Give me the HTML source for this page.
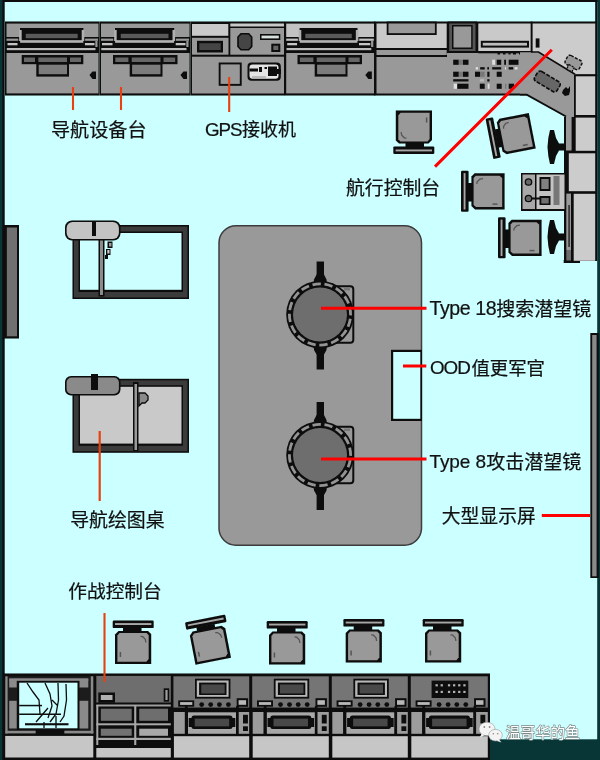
<!DOCTYPE html>
<html lang="zh-CN">
<head>
<meta charset="utf-8">
<title>潜艇指挥舱布局图</title>
<style>
html,body{margin:0;padding:0;background:#ccffff;}
body{width:600px;height:760px;overflow:hidden;}
svg{display:block;font-family:"Liberation Sans","Noto Sans CJK SC",sans-serif;font-size:19px;fill:#111;}
</style>
</head>
<body>
<svg width="600" height="760" viewBox="0 0 600 760">
<g shape-rendering="auto">
<rect x="0" y="0" width="600" height="760" fill="#ccffff"/>
<rect x="0" y="0" width="600" height="2" fill="#0c0c0c"/>
<rect x="595.2" y="0" width="2" height="22" fill="#0c0c0c"/>
<rect x="0" y="0" width="4.7" height="760" fill="#0c0c0c"/>
<rect x="0" y="0" width="2.4" height="760" fill="#083636"/>
<rect x="597.2" y="0" width="2.8" height="760" fill="#083636"/>
<rect x="489" y="739.3" width="111" height="20.7" fill="#083636"/>
<defs><filter id="soft" x="0" y="0" width="600" height="760" filterUnits="userSpaceOnUse"><feGaussianBlur stdDeviation="0.55"/></filter></defs>
<g filter="url(#soft)">
<rect x="5" y="21.5" width="94.5" height="74" fill="#0c0c0c"/>
<rect x="6.5" y="23.6" width="92" height="13.4" fill="#999999"/>
<rect x="6.5" y="53" width="92" height="40.4" fill="#999999"/>
<rect x="19.1" y="29.5" width="65.2" height="11.5" fill="#b0b0b0"/>
<rect x="20" y="28" width="63.4" height="2" fill="#0c0c0c"/>
<rect x="21.7" y="29.5" width="60" height="10.8" fill="#0c0c0c"/>
<rect x="25.7" y="33.8" width="52" height="4.4" fill="#5a5a5a"/>
<rect x="6.5" y="38.6" width="11.8" height="2.2" fill="#999999"/>
<rect x="85.1" y="38.6" width="12.9" height="2.2" fill="#999999"/>
<rect x="20.1" y="40.5" width="63.2" height="2.3" fill="#b4b4b4"/>
<rect x="7.5" y="43" width="10" height="2.3" fill="#c4c4c4"/>
<rect x="84.9" y="43" width="9.6" height="2.3" fill="#c4c4c4"/>
<rect x="6.8" y="48" width="88.7" height="2.2" fill="#bcbcbc"/>
<rect x="95.3" y="41" width="2.2" height="6" fill="#999999"/>
<rect x="21.7" y="55" width="61.6" height="9.2" fill="#0c0c0c"/>
<rect x="36.3" y="64" width="32.7" height="12.6" fill="#0c0c0c"/>
<rect x="24" y="57.5" width="11" height="4.5" fill="#666666"/>
<rect x="38.3" y="57.5" width="28.7" height="4.5" fill="#666666"/>
<rect x="70" y="57.5" width="11" height="4.5" fill="#666666"/>
<rect x="38.7" y="64.7" width="28.3" height="9.5" fill="#7c7c7c"/>
<path d="M89.5,75 l3,-3.5 h3.5 v7.5 h-3.5 Z" fill="#0c0c0c" stroke="none" stroke-width="0"/>
<rect x="99.5" y="21.5" width="91" height="74" fill="#0c0c0c"/>
<rect x="101" y="23.6" width="88.5" height="13.4" fill="#999999"/>
<rect x="101" y="53" width="88.5" height="40.4" fill="#999999"/>
<rect x="114.1" y="29.5" width="61" height="11.5" fill="#b0b0b0"/>
<rect x="115" y="28" width="59.2" height="2" fill="#0c0c0c"/>
<rect x="116.7" y="29.5" width="55.8" height="10.8" fill="#0c0c0c"/>
<rect x="120.7" y="33.8" width="47.8" height="4.4" fill="#5a5a5a"/>
<rect x="101" y="38.6" width="12.3" height="2.2" fill="#999999"/>
<rect x="175.9" y="38.6" width="13.1" height="2.2" fill="#999999"/>
<rect x="115.1" y="40.5" width="59" height="2.3" fill="#b4b4b4"/>
<rect x="102" y="43" width="10.5" height="2.3" fill="#c4c4c4"/>
<rect x="175.7" y="43" width="9.8" height="2.3" fill="#c4c4c4"/>
<rect x="101.3" y="48" width="85.2" height="2.2" fill="#bcbcbc"/>
<rect x="186.3" y="41" width="2.2" height="6" fill="#999999"/>
<rect x="113" y="55" width="64.5" height="9.2" fill="#0c0c0c"/>
<rect x="129.7" y="64" width="32.8" height="12.6" fill="#0c0c0c"/>
<rect x="115.3" y="57.5" width="13.1" height="4.5" fill="#666666"/>
<rect x="131.7" y="57.5" width="28.8" height="4.5" fill="#666666"/>
<rect x="163.5" y="57.5" width="11.7" height="4.5" fill="#666666"/>
<rect x="132.1" y="64.7" width="28.4" height="9.5" fill="#7c7c7c"/>
<path d="M180.5,75 l3,-3.5 h3.5 v7.5 h-3.5 Z" fill="#0c0c0c" stroke="none" stroke-width="0"/>
<rect x="190.5" y="21.5" width="94.5" height="74" fill="#0c0c0c"/>
<rect x="192" y="24" width="36.3" height="11.8" fill="#c9c9c9"/>
<rect x="192" y="37.8" width="36.5" height="16.9" fill="#999999"/>
<rect x="197" y="40.8" width="26" height="11.7" fill="#0c0c0c"/>
<rect x="199.3" y="43.2" width="21.4" height="6.8" fill="#444"/>
<rect x="230.3" y="23.5" width="53.7" height="3" fill="#c9c9c9"/>
<rect x="230.3" y="28" width="53.7" height="26.7" fill="#999999"/>
<path d="M241,33.7 H248.7 L251.7,37 V46.5 L248.7,49.7 H241 L238,46.5 V37 Z" fill="#444" stroke="#0c0c0c" stroke-width="1.6"/>
<rect x="260" y="34" width="20.3" height="6" fill="#0c0c0c"/>
<rect x="261.5" y="35.6" width="17.3" height="2.8" fill="#d8e0dc"/>
<rect x="271.3" y="43.7" width="9" height="8.3" fill="#0c0c0c"/>
<rect x="273.3" y="45.7" width="5" height="4.3" fill="#666666"/>
<rect x="192" y="56.7" width="92" height="36.8" fill="#999999"/>
<rect x="218.7" y="62.5" width="23" height="23.3" fill="#0c0c0c"/>
<rect x="220.6" y="64.4" width="19.2" height="19.5" fill="#999999"/>
<rect x="247.5" y="62.5" width="33.3" height="18.3" rx="4" fill="#0c0c0c"/>
<rect x="249.5" y="64.5" width="29" height="14.3" rx="3" fill="#e4e4e4"/>
<rect x="249.5" y="68.5" width="8.5" height="3" fill="#0c0c0c"/>
<rect x="259" y="67" width="3" height="5" fill="#0c0c0c"/>
<rect x="264.5" y="67" width="2.5" height="2" fill="#0c0c0c"/>
<rect x="268" y="66.5" width="9" height="9.5" fill="#0c0c0c"/>
<rect x="275" y="69" width="6" height="5" fill="#0c0c0c"/>
<rect x="252" y="76" width="14" height="2" fill="#bbb"/>
<rect x="284.7" y="21.5" width="90.6" height="74" fill="#0c0c0c"/>
<rect x="286.2" y="23.6" width="88.1" height="13.4" fill="#c2c2c2"/>
<rect x="286.2" y="53" width="88.1" height="40.4" fill="#999999"/>
<rect x="298.7" y="29.5" width="59.7" height="11.5" fill="#b0b0b0"/>
<rect x="299.6" y="28" width="57.9" height="2" fill="#0c0c0c"/>
<rect x="301.3" y="29.5" width="54.5" height="10.8" fill="#0c0c0c"/>
<rect x="305.3" y="33.8" width="46.5" height="4.4" fill="#5a5a5a"/>
<rect x="286.2" y="38.6" width="11.7" height="2.2" fill="#c2c2c2"/>
<rect x="359.2" y="38.6" width="14.6" height="2.2" fill="#c2c2c2"/>
<rect x="299.7" y="40.5" width="57.7" height="2.3" fill="#b4b4b4"/>
<rect x="287.2" y="43" width="9.9" height="2.3" fill="#c4c4c4"/>
<rect x="359" y="43" width="11.3" height="2.3" fill="#c4c4c4"/>
<rect x="286.5" y="48" width="84.8" height="2.2" fill="#bcbcbc"/>
<rect x="371.1" y="41" width="2.2" height="6" fill="#999999"/>
<rect x="297.5" y="55" width="64.5" height="9.2" fill="#0c0c0c"/>
<rect x="314.7" y="64" width="32.8" height="12.6" fill="#0c0c0c"/>
<rect x="299.8" y="57.5" width="13.6" height="4.5" fill="#666666"/>
<rect x="316.7" y="57.5" width="28.8" height="4.5" fill="#666666"/>
<rect x="348.5" y="57.5" width="11.2" height="4.5" fill="#666666"/>
<rect x="317.1" y="64.7" width="28.4" height="9.5" fill="#7c7c7c"/>
<path d="M365.3,75 l3,-3.5 h3.5 v7.5 h-3.5 Z" fill="#0c0c0c" stroke="none" stroke-width="0"/>
<rect x="374" y="21.5" width="158.5" height="74" fill="#0c0c0c"/>
<rect x="376.5" y="23.5" width="70.2" height="24.5" fill="#c9c9c9"/>
<rect x="386.7" y="21.5" width="50" height="13.5" fill="#0c0c0c"/>
<rect x="388.5" y="23.5" width="46.4" height="9.7" fill="#999999"/>
<rect x="376.5" y="50" width="70.2" height="5" fill="#999999"/>
<rect x="376.5" y="57" width="154.5" height="36.5" fill="#999999"/>
<rect x="447.5" y="21.5" width="29.5" height="31.5" fill="#0c0c0c"/>
<rect x="449.2" y="23.5" width="26.3" height="27.5" fill="#555"/>
<rect x="452" y="25" width="20.6" height="24" fill="#0c0c0c"/>
<rect x="453.5" y="26.5" width="17.7" height="21" fill="#999999"/>
<rect x="478.3" y="23.5" width="52.5" height="27.5" fill="#c9c9c9"/>
<rect x="480.8" y="40.8" width="48.2" height="6.8" fill="#0c0c0c"/>
<rect x="482.8" y="42.8" width="44.2" height="2.8" fill="#bdbdbd"/>
<rect x="447" y="53" width="84" height="4" fill="#999999"/>
<rect x="478.3" y="52" width="52.7" height="1.3" fill="#0c0c0c"/>
<rect x="453.2" y="59.7" width="5.6" height="5.1" fill="#0c0c0c"/>
<rect x="458.8" y="59.7" width="4.2" height="5.1" fill="#777777"/>
<rect x="463" y="59.7" width="5.5" height="5.1" fill="#0c0c0c"/>
<rect x="492.2" y="59.7" width="2.8" height="5.1" fill="#e0e0e0"/>
<rect x="496.7" y="59.7" width="4.5" height="5.1" fill="#0c0c0c"/>
<rect x="504.2" y="59.7" width="1.8" height="5.1" fill="#0c0c0c"/>
<rect x="508.7" y="59.7" width="9.8" height="5.1" fill="#0c0c0c"/>
<rect x="475.7" y="67.2" width="2.3" height="2.3" fill="#e0e0e0"/>
<rect x="480.2" y="67.2" width="4.5" height="2.3" fill="#0c0c0c"/>
<rect x="487.3" y="67.2" width="1.7" height="2.3" fill="#0c0c0c"/>
<rect x="492.2" y="67.2" width="9" height="2.3" fill="#0c0c0c"/>
<rect x="505" y="67.2" width="1" height="2.3" fill="#e0e0e0"/>
<rect x="508.7" y="67.2" width="4.5" height="2.3" fill="#0c0c0c"/>
<rect x="514.7" y="67.2" width="2.8" height="2.3" fill="#e0e0e0"/>
<rect x="453.2" y="71.7" width="5.6" height="5.1" fill="#0c0c0c"/>
<rect x="458.8" y="71.7" width="4.2" height="5.1" fill="#777777"/>
<rect x="463" y="71.7" width="5.5" height="5.1" fill="#0c0c0c"/>
<rect x="475" y="71.7" width="5.2" height="5.1" fill="#0c0c0c"/>
<rect x="480.2" y="71.7" width="4.5" height="5.1" fill="#777777"/>
<rect x="487.3" y="71.7" width="2.2" height="5.1" fill="#0c0c0c"/>
<rect x="496.7" y="71.7" width="5" height="5.1" fill="#0c0c0c"/>
<rect x="453.2" y="79.2" width="15.3" height="2.3" fill="#0c0c0c"/>
<rect x="479.8" y="79.2" width="4.2" height="2.3" fill="#bbbbbb"/>
<rect x="487.3" y="79.2" width="2.2" height="2.3" fill="#0c0c0c"/>
<rect x="453.7" y="83.7" width="3.3" height="5.1" fill="#e0e0e0"/>
<rect x="457.3" y="83.7" width="11.2" height="5.1" fill="#0c0c0c"/>
<rect x="479.8" y="83.7" width="4.9" height="5.1" fill="#0c0c0c"/>
<rect x="487.7" y="83.7" width="1.8" height="5.1" fill="#e0e0e0"/>
<rect x="496.7" y="83.7" width="5" height="5.1" fill="#0c0c0c"/>
<rect x="505" y="83.7" width="1.3" height="5.1" fill="#777777"/>
<rect x="508.7" y="83.7" width="5.3" height="5.1" fill="#0c0c0c"/>
<rect x="497.5" y="52.5" width="2.5" height="2" fill="#0c0c0c"/>
<rect x="503" y="52.5" width="2.5" height="2" fill="#0c0c0c"/>
<rect x="508.5" y="52.5" width="2" height="2" fill="#0c0c0c"/>
<rect x="513" y="52.5" width="3" height="2" fill="#0c0c0c"/>
<rect x="519" y="52.5" width="2" height="2" fill="#0c0c0c"/>
<rect x="524" y="52.5" width="3" height="2" fill="#0c0c0c"/>
<rect x="530.8" y="21.5" width="66.4" height="54.5" fill="#0c0c0c"/>
<rect x="532.6" y="23.5" width="62.6" height="50.8" fill="#cccccc"/>
<rect x="535.7" y="38.4" width="3.8" height="9.2" fill="#0c0c0c"/>
<path d="M520,52.3 L538.5,52.3 L575,74.5 L575,117 L566,117 L526.7,94.6 L520,94.6 Z" fill="#999999" stroke="none" stroke-width="0"/>
<path d="M531,52 L538.5,52 L575,74.3" fill="none" stroke="#0c0c0c" stroke-width="1.7"/>
<path d="M520,94.6 L526.7,94.6 L566,116.5" fill="none" stroke="#0c0c0c" stroke-width="1.9"/>
<g transform="translate(547.3,81.5) rotate(31)"><rect x="-13" y="-5.7" width="26" height="11.4" rx="3" fill="#666666" stroke="#0c0c0c" stroke-width="1.6" stroke-dasharray="4 1.5"/></g>
<path d="M563,90 l3,-3 l2,2 l2,-3 l0,5 l-1,4 l-4,1 l-3,-3 Z" fill="#0c0c0c" stroke="none" stroke-width="0"/>
<g transform="translate(573.5,62.5) rotate(28)"><rect x="-8" y="-5" width="16" height="10" rx="2.5" fill="#999999" stroke="#0c0c0c" stroke-width="1.4" stroke-dasharray="3 1.5"/><rect x="-3" y="4" width="6" height="5" fill="#999999" stroke="#0c0c0c" stroke-width="1.2" stroke-dasharray="2 1"/></g>
<rect x="574" y="74.5" width="23.2" height="43.5" fill="#0c0c0c"/>
<rect x="575.8" y="76.3" width="19.4" height="38.7" fill="#cccccc"/>
<rect x="564" y="117" width="33.2" height="144" fill="#0c0c0c"/>
<rect x="563.7" y="260" width="16.3" height="3" fill="#0c0c0c"/>
<rect x="566" y="117" width="5.6" height="33.5" fill="#999999"/>
<rect x="575.7" y="117.6" width="19.5" height="33.2" fill="#cccccc"/>
<rect x="568.8" y="153.3" width="26.4" height="37.9" fill="#cccccc"/>
<rect x="566.3" y="193.6" width="4.7" height="56.4" fill="#999999"/>
<rect x="566.3" y="250" width="4.7" height="10.5" fill="#6c6c6c"/>
<rect x="568.2" y="205" width="1.8" height="42" fill="#3a3a3a"/>
<rect x="573.7" y="193.8" width="21.5" height="67" fill="#cccccc"/>
<rect x="2.4" y="225" width="16.6" height="113.5" fill="#0c0c0c"/>
<rect x="6.8" y="227.5" width="10.2" height="108.8" fill="#707070"/>
<rect x="590.3" y="333" width="8.2" height="245" fill="#0c0c0c"/>
<rect x="592.2" y="335" width="4.4" height="241.3" fill="#8a8a8a"/>
<rect x="219" y="225.8" width="202.5" height="319.4" rx="17" fill="#999999" stroke="#3c3c3c" stroke-width="1.5"/>
<rect x="391" y="349.8" width="31" height="71.2" fill="#0c0c0c"/>
<rect x="393.2" y="352" width="27.1" height="66.8" fill="#ccffff"/>
<rect x="334" y="286.2" width="19.3" height="56.6" rx="3" fill="#999999" stroke="#0c0c0c" stroke-width="2"/>
<rect x="344" y="288" width="6" height="2.5" fill="#777"/>
<rect x="316.6" y="261.5" width="7.4" height="23" fill="#0c0c0c"/>
<path d="M316.6,274.5 L314,279.5 L313.5,284.5 L327,284.5 L326.5,279.5 L324,274.5 Z" fill="#0c0c0c" stroke="none" stroke-width="0"/>
<rect x="316.6" y="344.5" width="7.4" height="25" fill="#0c0c0c"/>
<path d="M316.6,354.5 L314,350.0 L313.5,344.5 L327,344.5 L326.5,350.0 L324,354.5 Z" fill="#0c0c0c" stroke="none" stroke-width="0"/>
<circle cx="320" cy="314.5" r="33.8" fill="#0c0c0c"/>
<circle cx="320" cy="314.5" r="30.6" fill="none" stroke="#949494" stroke-width="2.8" stroke-dasharray="8.3 3.717" transform="rotate(8 320 314.5)"/>
<circle cx="320" cy="314.5" r="27" fill="#6e6e6e"/>
<rect x="334" y="426.7" width="19.3" height="56.6" rx="3" fill="#999999" stroke="#0c0c0c" stroke-width="2"/>
<rect x="344" y="428.5" width="6" height="2.5" fill="#777"/>
<rect x="316.6" y="402" width="7.4" height="23" fill="#0c0c0c"/>
<path d="M316.6,415 L314,420 L313.5,425 L327,425 L326.5,420 L324,415 Z" fill="#0c0c0c" stroke="none" stroke-width="0"/>
<rect x="316.6" y="485" width="7.4" height="25" fill="#0c0c0c"/>
<path d="M316.6,495 L314,490.5 L313.5,485 L327,485 L326.5,490.5 L324,495 Z" fill="#0c0c0c" stroke="none" stroke-width="0"/>
<circle cx="320" cy="455" r="33.8" fill="#0c0c0c"/>
<circle cx="320" cy="455" r="30.6" fill="none" stroke="#949494" stroke-width="2.8" stroke-dasharray="8.3 3.717" transform="rotate(8 320 455)"/>
<circle cx="320" cy="455" r="27" fill="#6e6e6e"/>
<rect x="72.5" y="225" width="116.5" height="74" fill="#0c0c0c"/>
<rect x="74" y="226.5" width="113.5" height="71" fill="#3a3a3a"/>
<rect x="78.5" y="231.5" width="104.5" height="60.5" fill="#0c0c0c"/>
<rect x="80" y="233" width="101.5" height="56.8" fill="#ccffff"/>
<rect x="98.5" y="238" width="6" height="58.5" fill="#0c0c0c"/>
<rect x="100" y="240" width="3" height="55" fill="#8c8c8c"/>
<rect x="65" y="220.5" width="55.5" height="20" rx="7" fill="#0c0c0c"/>
<rect x="66.6" y="222.1" width="52.3" height="16.8" rx="6" fill="#c4c4c4"/>
<rect x="92" y="222" width="4" height="14" fill="#0c0c0c"/>
<rect x="107.5" y="241.5" width="5" height="6.5" fill="#0c0c0c"/>
<rect x="109" y="243" width="2.5" height="3.5" fill="#999"/>
<rect x="106" y="249" width="4.5" height="6" fill="#0c0c0c"/>
<rect x="107.3" y="250" width="2.2" height="3.5" fill="#ccc"/>
<rect x="105" y="255" width="3" height="4" fill="#0c0c0c"/>
<rect x="72.5" y="378.8" width="116.5" height="74" fill="#0c0c0c"/>
<rect x="74" y="380.3" width="113.5" height="71" fill="#3a3a3a"/>
<rect x="78.5" y="385.3" width="104.5" height="60.5" fill="#0c0c0c"/>
<rect x="80" y="386.8" width="101.5" height="56.8" fill="#c9c9c9"/>
<rect x="133" y="382" width="5.5" height="69" fill="#0c0c0c"/>
<rect x="134.5" y="384" width="2.5" height="66" fill="#9a9a9a"/>
<rect x="65" y="376" width="55.5" height="19.5" rx="6" fill="#0c0c0c"/>
<rect x="66.6" y="377.6" width="52.3" height="16.3" rx="5" fill="#8a8a8a"/>
<rect x="91" y="374" width="7" height="16" fill="#0c0c0c"/>
<path d="M139,393 h6 l3,3 v4 l-3,3 h-3 l-3,3 Z" fill="#8a8a8a" stroke="#0c0c0c" stroke-width="1.3"/>
<g transform="translate(133,647.5) rotate(0)"><rect x="-20.3" y="-27" width="41" height="7.6" rx="1.2" fill="#0c0c0c"/><rect x="-18" y="-24.4" width="36.4" height="1.9" fill="#a8a8a8"/><rect x="-10" y="-20" width="18.5" height="4.5" fill="#0c0c0c"/><path d="M-14.5,-16.6 H15 L18.2,-13.4 V16.6 H-18 V-13 Z" fill="#0c0c0c"/><path d="M-13.5,-14.4 H13.6 L15.7,-12.3 V11.5 L13.4,14.2 H-15.6 V-12 Z" fill="#999999"/><path d="M7.5,-11.2 l2.2,0.4 l2.6,2.6 l0.6,3.2" fill="none" stroke="#555" stroke-width="1.3"/><path d="M-12.6,4.5 v5" fill="none" stroke="#555" stroke-width="1.5"/></g>
<g transform="translate(210,645) rotate(-11)"><rect x="-20.3" y="-27" width="41" height="7.6" rx="1.2" fill="#0c0c0c"/><rect x="-18" y="-24.4" width="36.4" height="1.9" fill="#a8a8a8"/><rect x="-10" y="-20" width="18.5" height="4.5" fill="#0c0c0c"/><path d="M-14.5,-16.6 H15 L18.2,-13.4 V16.6 H-18 V-13 Z" fill="#0c0c0c"/><path d="M-13.5,-14.4 H13.6 L15.7,-12.3 V11.5 L13.4,14.2 H-15.6 V-12 Z" fill="#999999"/><path d="M7.5,-11.2 l2.2,0.4 l2.6,2.6 l0.6,3.2" fill="none" stroke="#555" stroke-width="1.3"/><path d="M-12.6,4.5 v5" fill="none" stroke="#555" stroke-width="1.5"/></g>
<g transform="translate(287,648) rotate(0)"><rect x="-20.3" y="-27" width="41" height="7.6" rx="1.2" fill="#0c0c0c"/><rect x="-18" y="-24.4" width="36.4" height="1.9" fill="#a8a8a8"/><rect x="-10" y="-20" width="18.5" height="4.5" fill="#0c0c0c"/><path d="M-14.5,-16.6 H15 L18.2,-13.4 V16.6 H-18 V-13 Z" fill="#0c0c0c"/><path d="M-13.5,-14.4 H13.6 L15.7,-12.3 V11.5 L13.4,14.2 H-15.6 V-12 Z" fill="#999999"/><path d="M7.5,-11.2 l2.2,0.4 l2.6,2.6 l0.6,3.2" fill="none" stroke="#555" stroke-width="1.3"/><path d="M-12.6,4.5 v5" fill="none" stroke="#555" stroke-width="1.5"/></g>
<g transform="translate(363.7,646) rotate(0)"><rect x="-20.3" y="-27" width="41" height="7.6" rx="1.2" fill="#0c0c0c"/><rect x="-18" y="-24.4" width="36.4" height="1.9" fill="#a8a8a8"/><rect x="-10" y="-20" width="18.5" height="4.5" fill="#0c0c0c"/><path d="M-14.5,-16.6 H15 L18.2,-13.4 V16.6 H-18 V-13 Z" fill="#0c0c0c"/><path d="M-13.5,-14.4 H13.6 L15.7,-12.3 V11.5 L13.4,14.2 H-15.6 V-12 Z" fill="#999999"/><path d="M7.5,-11.2 l2.2,0.4 l2.6,2.6 l0.6,3.2" fill="none" stroke="#555" stroke-width="1.3"/><path d="M-12.6,4.5 v5" fill="none" stroke="#555" stroke-width="1.5"/></g>
<g transform="translate(443,646) rotate(0)"><rect x="-20.3" y="-27" width="41" height="7.6" rx="1.2" fill="#0c0c0c"/><rect x="-18" y="-24.4" width="36.4" height="1.9" fill="#a8a8a8"/><rect x="-10" y="-20" width="18.5" height="4.5" fill="#0c0c0c"/><path d="M-14.5,-16.6 H15 L18.2,-13.4 V16.6 H-18 V-13 Z" fill="#0c0c0c"/><path d="M-13.5,-14.4 H13.6 L15.7,-12.3 V11.5 L13.4,14.2 H-15.6 V-12 Z" fill="#999999"/><path d="M7.5,-11.2 l2.2,0.4 l2.6,2.6 l0.6,3.2" fill="none" stroke="#555" stroke-width="1.3"/><path d="M-12.6,4.5 v5" fill="none" stroke="#555" stroke-width="1.5"/></g>
<g transform="translate(414,127) rotate(180)"><rect x="-20.3" y="-27" width="41" height="7.6" rx="1.2" fill="#0c0c0c"/><rect x="-18" y="-24.4" width="36.4" height="1.9" fill="#a8a8a8"/><rect x="-10" y="-20" width="18.5" height="4.5" fill="#0c0c0c"/><path d="M-14.5,-16.6 H15 L18.2,-13.4 V16.6 H-18 V-13 Z" fill="#0c0c0c"/><path d="M-13.5,-14.4 H13.6 L15.7,-12.3 V11.5 L13.4,14.2 H-15.6 V-12 Z" fill="#999999"/><path d="M7.5,-11.2 l2.2,0.4 l2.6,2.6 l0.6,3.2" fill="none" stroke="#555" stroke-width="1.3"/><path d="M-12.6,4.5 v5" fill="none" stroke="#555" stroke-width="1.5"/></g>
<g transform="translate(516,134) rotate(-101)"><rect x="-20.3" y="-27" width="41" height="7.6" rx="1.2" fill="#0c0c0c"/><rect x="-18" y="-24.4" width="36.4" height="1.9" fill="#a8a8a8"/><rect x="-10" y="-20" width="18.5" height="4.5" fill="#0c0c0c"/><path d="M-14.5,-16.6 H15 L18.2,-13.4 V16.6 H-18 V-13 Z" fill="#0c0c0c"/><path d="M-13.5,-14.4 H13.6 L15.7,-12.3 V11.5 L13.4,14.2 H-15.6 V-12 Z" fill="#999999"/><path d="M7.5,-11.2 l2.2,0.4 l2.6,2.6 l0.6,3.2" fill="none" stroke="#555" stroke-width="1.3"/><path d="M-12.6,4.5 v5" fill="none" stroke="#555" stroke-width="1.5"/></g>
<g transform="translate(488,191.5) rotate(-90)"><rect x="-20.3" y="-27" width="41" height="7.6" rx="1.2" fill="#0c0c0c"/><rect x="-18" y="-24.4" width="36.4" height="1.9" fill="#a8a8a8"/><rect x="-10" y="-20" width="18.5" height="4.5" fill="#0c0c0c"/><path d="M-14.5,-16.6 H15 L18.2,-13.4 V16.6 H-18 V-13 Z" fill="#0c0c0c"/><path d="M-13.5,-14.4 H13.6 L15.7,-12.3 V11.5 L13.4,14.2 H-15.6 V-12 Z" fill="#999999"/><path d="M7.5,-11.2 l2.2,0.4 l2.6,2.6 l0.6,3.2" fill="none" stroke="#555" stroke-width="1.3"/><path d="M-12.6,4.5 v5" fill="none" stroke="#555" stroke-width="1.5"/></g>
<g transform="translate(525,238) rotate(-90)"><rect x="-20.3" y="-27" width="41" height="7.6" rx="1.2" fill="#0c0c0c"/><rect x="-18" y="-24.4" width="36.4" height="1.9" fill="#a8a8a8"/><rect x="-10" y="-20" width="18.5" height="4.5" fill="#0c0c0c"/><path d="M-14.5,-16.6 H15 L18.2,-13.4 V16.6 H-18 V-13 Z" fill="#0c0c0c"/><path d="M-13.5,-14.4 H13.6 L15.7,-12.3 V11.5 L13.4,14.2 H-15.6 V-12 Z" fill="#999999"/><path d="M7.5,-11.2 l2.2,0.4 l2.6,2.6 l0.6,3.2" fill="none" stroke="#555" stroke-width="1.3"/><path d="M-12.6,4.5 v5" fill="none" stroke="#555" stroke-width="1.5"/></g>
<rect x="521" y="173" width="45" height="38" fill="#0c0c0c"/>
<rect x="522.5" y="174.5" width="12.5" height="34.5" fill="#a8a8a8"/>
<rect x="536.5" y="174.5" width="28" height="34.5" fill="#c4c4c4"/>
<circle cx="528.5" cy="182" r="3.2" fill="#666" stroke="#0c0c0c" stroke-width="1.3"/>
<circle cx="528.5" cy="198.5" r="3.2" fill="#666" stroke="#0c0c0c" stroke-width="1.3"/>
<rect x="539.5" y="177" width="11" height="14" fill="#0c0c0c"/>
<rect x="541.3" y="179" width="7.4" height="10" fill="#808080"/>
<rect x="539.5" y="196" width="11" height="9" fill="#0c0c0c"/>
<rect x="541.3" y="198" width="7.4" height="5.5" fill="#707070"/>
<rect x="531" y="197.5" width="9" height="2" fill="#0c0c0c"/>
<rect x="553.5" y="176" width="6" height="29" fill="#777"/>
<path d="M550,130 L554,130 L556,138 L559,143.4 L566,143.4 L566,150.6 L559,150.6 L556,156 L554,164 L550,164 L548.3,156 L547.5,147 L548.3,138 Z" fill="#0c0c0c" stroke="none" stroke-width="0"/>
<path d="M550,220 L554,220 L556,228 L559,233.4 L566,233.4 L566,240.6 L559,240.6 L556,246 L554,254 L550,254 L548.3,246 L547.5,237 L548.3,228 Z" fill="#0c0c0c" stroke="none" stroke-width="0"/>
<rect x="2.4" y="673.5" width="487.6" height="94.5" fill="#0c0c0c"/>
<rect x="5.5" y="676.3" width="87.8" height="57.2" fill="#1c1c1c"/>
<rect x="5.3" y="676.3" width="2.3" height="57.2" fill="#8a8a8a"/>
<rect x="90.8" y="676.3" width="2.5" height="57.2" fill="#8a8a8a"/>
<rect x="9.2" y="678.3" width="79.1" height="2.5" fill="#8a8a8a"/>
<rect x="9.2" y="679.2" width="7.5" height="8.3" fill="#8a8a8a"/>
<rect x="9.2" y="700.8" width="7.5" height="27.7" fill="#8a8a8a"/>
<rect x="79.3" y="679.2" width="9" height="8.3" fill="#8a8a8a"/>
<rect x="79.3" y="700.8" width="9" height="27.7" fill="#8a8a8a"/>
<rect x="17" y="681" width="62.3" height="49" fill="#0c0c0c"/>
<rect x="19.2" y="682.7" width="58.3" height="45.6" fill="#ccffff"/>
<path d="M27,683 L33,692 L39,700 L40,714 M45,683 L50,694 L52,706 L48,718 M58,683 L58.5,700 L56,714 L50,722 M66,684 L66.5,700 L64,716 L60,722 M36,722 L48,708 M52,700 L58,706 M44,722 L44,728 M56,716 L56,728" fill="none" stroke="#0c0c0c" stroke-width="1.3"/>
<rect x="19.2" y="704.8" width="22.8" height="1.5" fill="#0c0c0c"/>
<rect x="19.2" y="713.5" width="41.8" height="1.5" fill="#0c0c0c"/>
<rect x="25" y="723.2" width="43.5" height="2.1" fill="#0c0c0c"/>
<rect x="5.5" y="730.8" width="30.3" height="2.6" fill="#8a8a8a"/>
<rect x="64.2" y="730.8" width="29.1" height="2.6" fill="#8a8a8a"/>
<rect x="35.8" y="729" width="28.4" height="5" fill="#0c0c0c"/>
<rect x="5.2" y="735.9" width="88.1" height="21.6" fill="#c6c6c6"/>
<rect x="96.3" y="675.9" width="74.5" height="26.6" fill="#6e6e6e"/>
<rect x="98.3" y="692.5" width="16.7" height="10.3" fill="#0c0c0c"/>
<rect x="100.8" y="695" width="11.7" height="5" fill="#b0b0b0"/>
<rect x="163.7" y="688.3" width="5.5" height="13.4" fill="#0c0c0c"/>
<rect x="165.4" y="690" width="2.2" height="10" fill="#a0a0a0"/>
<rect x="96.3" y="704.5" width="74.5" height="2.2" fill="#a0a0a0"/>
<rect x="96.3" y="706.7" width="74.5" height="40.3" fill="#0c0c0c"/>
<rect x="96.3" y="705" width="2" height="40" fill="#a8a8a8"/>
<rect x="134.2" y="705" width="2.1" height="40" fill="#a8a8a8"/>
<rect x="96.3" y="723.3" width="74.5" height="2" fill="#a8a8a8"/>
<rect x="96.3" y="737.8" width="74.5" height="2.2" fill="#a8a8a8"/>
<rect x="100.8" y="708.7" width="30.9" height="12.1" fill="#6e6e6e"/>
<rect x="139.2" y="708.7" width="28.8" height="12.1" fill="#6e6e6e"/>
<rect x="100.8" y="728.7" width="30.9" height="7.1" fill="#727272"/>
<rect x="139.2" y="728.7" width="28.8" height="7.1" fill="#a8a8a8"/>
<rect x="96.3" y="748" width="74.5" height="9.5" fill="#c6c6c6"/>
<rect x="173.4" y="676.3" width="75.8" height="31.3" fill="#757575"/>
<rect x="195" y="678.7" width="35.4" height="19.9" fill="#0c0c0c"/>
<rect x="196.8" y="680.5" width="31.8" height="16.3" fill="#b8b8b8"/>
<rect x="199.1" y="682.6" width="27.4" height="12.4" fill="#0c0c0c"/>
<rect x="201.2" y="684.4" width="23.5" height="9.1" fill="#484848"/>
<rect x="178.2" y="700.4" width="16" height="6.3" fill="#0c0c0c"/>
<rect x="180.1" y="702.1" width="12.2" height="2.8" fill="#b8b8b8"/>
<circle cx="201.7" cy="704.6" r="2.4" fill="#0c0c0c"/>
<circle cx="210.7" cy="704.6" r="2.4" fill="#0c0c0c"/>
<circle cx="219.4" cy="704.6" r="2.4" fill="#0c0c0c"/>
<circle cx="228.4" cy="704.6" r="2.4" fill="#0c0c0c"/>
<rect x="236.7" y="698.2" width="11.4" height="8.6" fill="#0c0c0c"/>
<rect x="238.6" y="700.2" width="7.5" height="4.6" fill="#b8b8b8"/>
<rect x="173.9" y="712" width="11" height="21.8" fill="#9c9c9c"/>
<rect x="187.9" y="712.3" width="48.2" height="21.5" fill="#a8a8a8"/>
<rect x="184.9" y="706" width="2.8" height="28" fill="#0c0c0c"/>
<rect x="236.1" y="706" width="2.6" height="28" fill="#0c0c0c"/>
<rect x="191.5" y="715.5" width="41" height="13.6" rx="2.5" fill="#0c0c0c"/>
<rect x="188.7" y="718" width="46.6" height="9" fill="#0c0c0c"/>
<rect x="194.7" y="718.6" width="34.5" height="7.8" fill="#484848"/>
<rect x="238.7" y="712" width="10.5" height="21.8" fill="#9c9c9c"/>
<rect x="243" y="714.8" width="4.9" height="8.7" fill="#0c0c0c"/>
<rect x="243" y="726.3" width="4.9" height="4.7" fill="#0c0c0c"/>
<rect x="173.9" y="736.2" width="75.3" height="21.4" fill="#c6c6c6"/>
<rect x="252.2" y="676.3" width="76.6" height="31.3" fill="#757575"/>
<rect x="273.8" y="678.7" width="35.4" height="19.9" fill="#0c0c0c"/>
<rect x="275.6" y="680.5" width="31.8" height="16.3" fill="#b8b8b8"/>
<rect x="277.9" y="682.6" width="27.4" height="12.4" fill="#0c0c0c"/>
<rect x="280" y="684.4" width="23.5" height="9.1" fill="#484848"/>
<rect x="257" y="700.4" width="16" height="6.3" fill="#0c0c0c"/>
<rect x="258.9" y="702.1" width="12.2" height="2.8" fill="#b8b8b8"/>
<circle cx="280.5" cy="704.6" r="2.4" fill="#0c0c0c"/>
<circle cx="289.5" cy="704.6" r="2.4" fill="#0c0c0c"/>
<circle cx="298.2" cy="704.6" r="2.4" fill="#0c0c0c"/>
<circle cx="307.2" cy="704.6" r="2.4" fill="#0c0c0c"/>
<rect x="315.5" y="698.2" width="11.4" height="8.6" fill="#0c0c0c"/>
<rect x="317.4" y="700.2" width="7.5" height="4.6" fill="#b8b8b8"/>
<rect x="252.7" y="712" width="11" height="21.8" fill="#9c9c9c"/>
<rect x="266.7" y="712.3" width="48.2" height="21.5" fill="#a8a8a8"/>
<rect x="263.7" y="706" width="2.8" height="28" fill="#0c0c0c"/>
<rect x="314.9" y="706" width="2.6" height="28" fill="#0c0c0c"/>
<rect x="270.3" y="715.5" width="41" height="13.6" rx="2.5" fill="#0c0c0c"/>
<rect x="267.5" y="718" width="46.6" height="9" fill="#0c0c0c"/>
<rect x="273.5" y="718.6" width="34.5" height="7.8" fill="#484848"/>
<rect x="317.5" y="712" width="11.3" height="21.8" fill="#9c9c9c"/>
<rect x="321.8" y="714.8" width="4.9" height="8.7" fill="#0c0c0c"/>
<rect x="321.8" y="726.3" width="4.9" height="4.7" fill="#0c0c0c"/>
<rect x="252.7" y="736.2" width="76.1" height="21.4" fill="#c6c6c6"/>
<rect x="331.8" y="676.3" width="76" height="31.3" fill="#757575"/>
<rect x="353.4" y="678.7" width="35.4" height="19.9" fill="#0c0c0c"/>
<rect x="355.2" y="680.5" width="31.8" height="16.3" fill="#b8b8b8"/>
<rect x="357.5" y="682.6" width="27.4" height="12.4" fill="#0c0c0c"/>
<rect x="359.6" y="684.4" width="23.5" height="9.1" fill="#484848"/>
<rect x="336.6" y="700.4" width="16" height="6.3" fill="#0c0c0c"/>
<rect x="338.5" y="702.1" width="12.2" height="2.8" fill="#b8b8b8"/>
<circle cx="360.1" cy="704.6" r="2.4" fill="#0c0c0c"/>
<circle cx="369.1" cy="704.6" r="2.4" fill="#0c0c0c"/>
<circle cx="377.8" cy="704.6" r="2.4" fill="#0c0c0c"/>
<circle cx="386.8" cy="704.6" r="2.4" fill="#0c0c0c"/>
<rect x="395.1" y="698.2" width="11.4" height="8.6" fill="#0c0c0c"/>
<rect x="397" y="700.2" width="7.5" height="4.6" fill="#b8b8b8"/>
<rect x="332.3" y="712" width="11" height="21.8" fill="#9c9c9c"/>
<rect x="346.3" y="712.3" width="48.2" height="21.5" fill="#a8a8a8"/>
<rect x="343.3" y="706" width="2.8" height="28" fill="#0c0c0c"/>
<rect x="394.5" y="706" width="2.6" height="28" fill="#0c0c0c"/>
<rect x="349.9" y="715.5" width="41" height="13.6" rx="2.5" fill="#0c0c0c"/>
<rect x="347.1" y="718" width="46.6" height="9" fill="#0c0c0c"/>
<rect x="353.1" y="718.6" width="34.5" height="7.8" fill="#484848"/>
<rect x="397.1" y="712" width="10.7" height="21.8" fill="#9c9c9c"/>
<rect x="401.4" y="714.8" width="4.9" height="8.7" fill="#0c0c0c"/>
<rect x="401.4" y="726.3" width="4.9" height="4.7" fill="#0c0c0c"/>
<rect x="332.3" y="736.2" width="75.5" height="21.4" fill="#c6c6c6"/>
<rect x="410.8" y="676.3" width="77" height="31.3" fill="#757575"/>
<rect x="431.6" y="680.6" width="36.7" height="17.4" fill="#0c0c0c"/>
<rect x="435.5" y="684.2" width="2.3" height="2.2" fill="#b0b0b0"/>
<rect x="440.6" y="684.2" width="2.3" height="2.2" fill="#b0b0b0"/>
<rect x="447.9" y="684.2" width="2.3" height="2.2" fill="#b0b0b0"/>
<rect x="453" y="684.2" width="2.3" height="2.2" fill="#b0b0b0"/>
<rect x="458.1" y="684.2" width="2.3" height="2.2" fill="#b0b0b0"/>
<rect x="463.3" y="684.2" width="2.3" height="2.2" fill="#b0b0b0"/>
<rect x="435.5" y="690.8" width="2.3" height="2.2" fill="#b0b0b0"/>
<rect x="440.6" y="690.8" width="2.3" height="2.2" fill="#b0b0b0"/>
<rect x="447.9" y="690.8" width="2.3" height="2.2" fill="#b0b0b0"/>
<rect x="453" y="690.8" width="2.3" height="2.2" fill="#b0b0b0"/>
<rect x="458.1" y="690.8" width="2.3" height="2.2" fill="#b0b0b0"/>
<rect x="463.3" y="690.8" width="2.3" height="2.2" fill="#b0b0b0"/>
<rect x="415.6" y="700.4" width="16" height="6.3" fill="#0c0c0c"/>
<rect x="417.5" y="702.1" width="12.2" height="2.8" fill="#b8b8b8"/>
<circle cx="439.1" cy="704.6" r="2.4" fill="#0c0c0c"/>
<circle cx="448.1" cy="704.6" r="2.4" fill="#0c0c0c"/>
<circle cx="456.8" cy="704.6" r="2.4" fill="#0c0c0c"/>
<circle cx="465.8" cy="704.6" r="2.4" fill="#0c0c0c"/>
<rect x="474.1" y="698.2" width="11.4" height="8.6" fill="#0c0c0c"/>
<rect x="476" y="700.2" width="7.5" height="4.6" fill="#b8b8b8"/>
<rect x="411.3" y="712" width="11" height="21.8" fill="#9c9c9c"/>
<rect x="425.3" y="712.3" width="48.2" height="21.5" fill="#a8a8a8"/>
<rect x="422.3" y="706" width="2.8" height="28" fill="#0c0c0c"/>
<rect x="473.5" y="706" width="2.6" height="28" fill="#0c0c0c"/>
<rect x="428.9" y="715.5" width="41" height="13.6" rx="2.5" fill="#0c0c0c"/>
<rect x="426.1" y="718" width="46.6" height="9" fill="#0c0c0c"/>
<rect x="432.1" y="718.6" width="34.5" height="7.8" fill="#484848"/>
<rect x="476.1" y="712" width="11.7" height="21.8" fill="#9c9c9c"/>
<rect x="480.4" y="714.8" width="4.9" height="8.7" fill="#0c0c0c"/>
<rect x="480.4" y="726.3" width="4.9" height="4.7" fill="#0c0c0c"/>
<rect x="411.3" y="736.2" width="76.5" height="21.4" fill="#c6c6c6"/>
</g>
<line x1="73" y1="87" x2="73" y2="110" stroke="#e8400f" stroke-width="2.1"/>
<line x1="121" y1="87" x2="121" y2="110" stroke="#e8400f" stroke-width="2.1"/>
<line x1="229.2" y1="77" x2="229.2" y2="112" stroke="#e8400f" stroke-width="2.1"/>
<line x1="99.7" y1="431" x2="99.7" y2="501" stroke="#e8400f" stroke-width="2.2"/>
<line x1="104.5" y1="613" x2="104.5" y2="682" stroke="#e8400f" stroke-width="2.1"/>
<line x1="551.8" y1="49.8" x2="435" y2="166.6" stroke="#ff0000" stroke-width="3" stroke-linecap="butt"/>
<line x1="321" y1="308.3" x2="426.5" y2="308.3" stroke="#ff0000" stroke-width="3"/>
<line x1="321" y1="459" x2="426.5" y2="459" stroke="#ff0000" stroke-width="3"/>
<line x1="403" y1="366" x2="426.3" y2="366" stroke="#ff0000" stroke-width="3"/>
<line x1="541.8" y1="515.6" x2="590" y2="515.6" stroke="#ff0000" stroke-width="3"/>
<g style="will-change:transform" stroke="#111" stroke-width="0.22">
<text x="51" y="136.5" font-size="19.1">导航设备台</text>
<text x="205" y="136.2" font-size="18"><tspan font-size="18.8" letter-spacing="-1.05">GPS</tspan><tspan dx="0.4">接收机</tspan></text>
<text x="346" y="195" font-size="18.85">航行控制台</text>
<text x="429.4" y="315" font-size="19"><tspan font-size="19.6" letter-spacing="-0.4">Type 18</tspan><tspan dy="0.8">搜索潜望镜</tspan></text>
<text x="429.9" y="374.3" font-size="18.4"><tspan font-size="18.8" letter-spacing="-0.95">OOD</tspan><tspan dx="1.6" dy="0.5">值更军官</tspan></text>
<text x="429.4" y="468" font-size="19"><tspan font-size="19" letter-spacing="-0.05">Type 8</tspan><tspan dy="0.8">攻击潜望镜</tspan></text>
<text x="441.8" y="523" font-size="18.8">大型显示屏</text>
<text x="70.2" y="526.8" font-size="18.9">导航绘图桌</text>
<text x="68.3" y="598" font-size="18.7">作战控制台</text>
</g>
<g fill="#f4f4f4" stroke="#9a9a9a" stroke-width="0.6"><ellipse cx="487" cy="729" rx="8" ry="6.8"/><path d="M481.5,733.5 l-1.5,4 l4.5,-2.2 Z" stroke="none"/><ellipse cx="495.5" cy="735.2" rx="6.8" ry="5.8"/><path d="M499,739.5 l2.5,3 l-5,-1.8 Z" stroke="none"/></g>
<g fill="#888"><circle cx="484.3" cy="727" r="0.9"/><circle cx="489.6" cy="727" r="0.9"/><circle cx="493.3" cy="733.8" r="0.8"/><circle cx="497.7" cy="733.8" r="0.8"/></g>
<g style="will-change:transform"><text x="505.8" y="738.1" style="font-size:14.8px;paint-order:stroke" fill="#ffffff" stroke="#7c8a8a" stroke-width="1.3" stroke-linejoin="round">温哥华的鱼</text></g>
</g>
</svg>
</body>
</html>
